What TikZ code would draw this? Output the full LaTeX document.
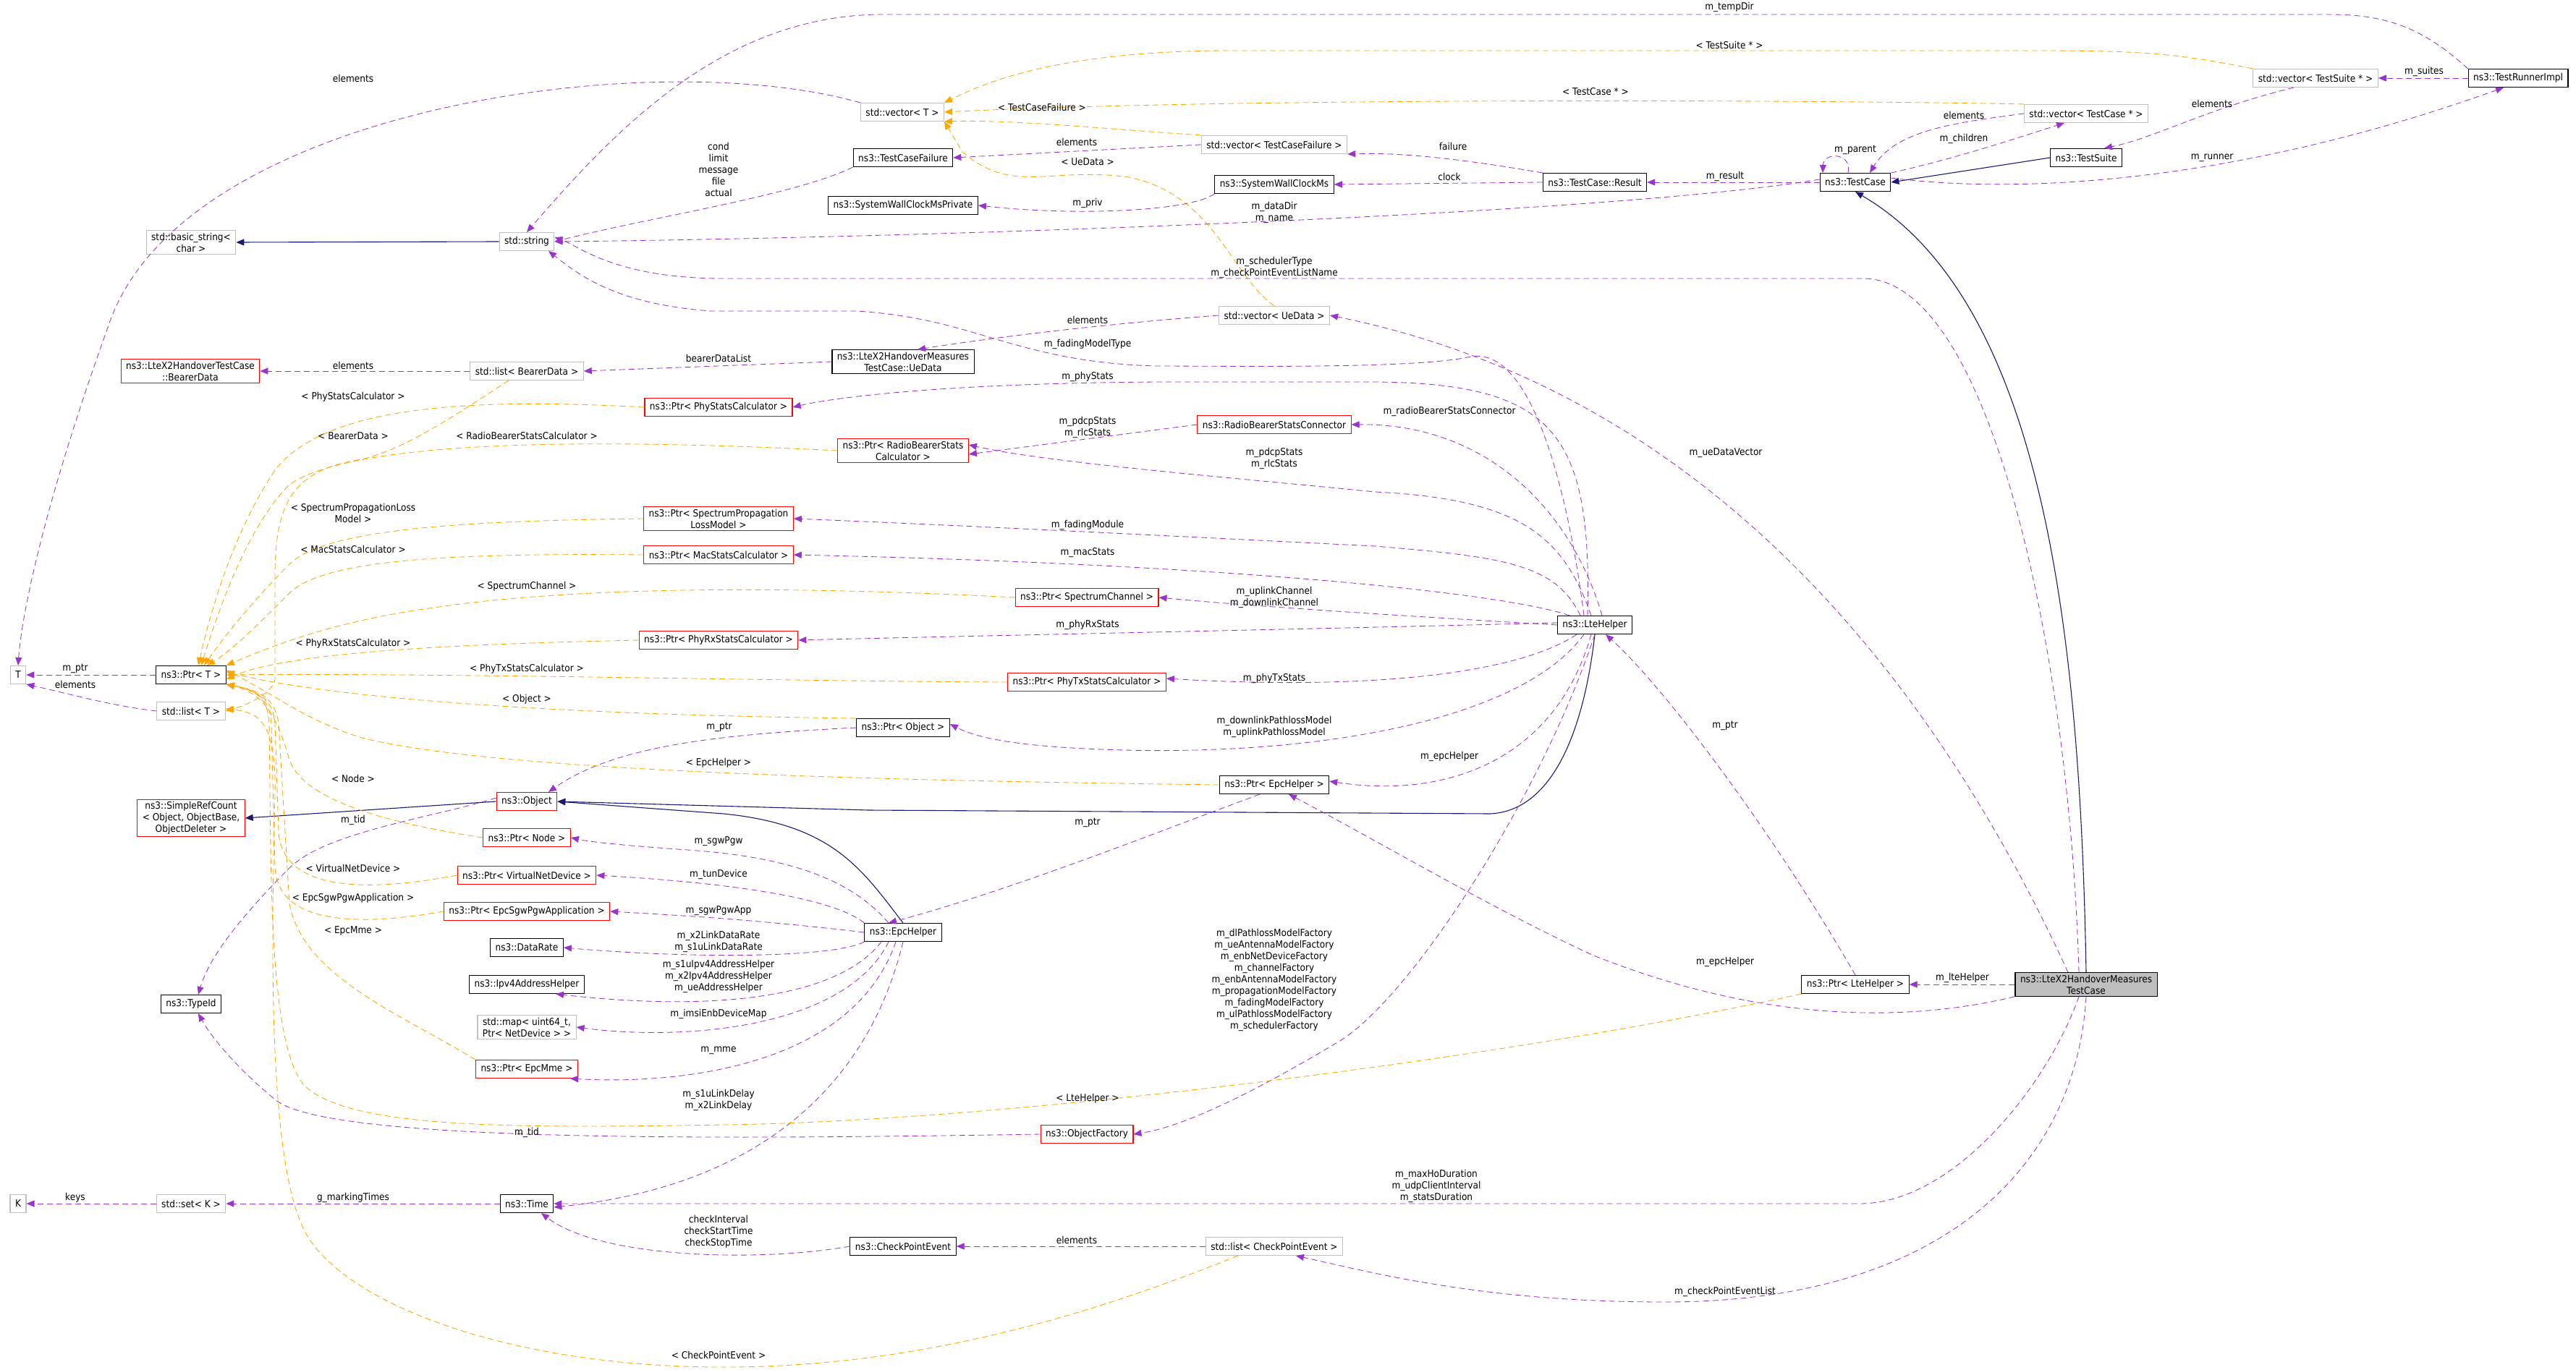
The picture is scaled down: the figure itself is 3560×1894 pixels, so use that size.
\documentclass[tikz,border=0pt]{standalone}
\usepackage{fontspec}
\setmainfont{DejaVu Sans}[FakeStretch=0.9]
\usetikzlibrary{arrows.meta}
\definecolor{purp}{HTML}{9A32CD}
\definecolor{orng}{HTML}{FFA500}
\definecolor{navyc}{HTML}{191970}
\definecolor{gbord}{HTML}{BFBFBF}
\begin{document}
\begin{tikzpicture}[x=1pt,y=-1pt,
  base/.style={font=\fontsize{13.5}{16}\selectfont, align=center, inner xsep=7pt, inner ysep=3pt, minimum height=25pt, fill=white},
  bx/.style={base, draw=black, line width=1.1pt},
  gb/.style={base, draw=gbord, line width=1.1pt},
  rb/.style={base, draw=red, line width=1.1pt},
  mb/.style={base, draw=black, line width=1.1pt, fill=gray!50},
  tip/.style={-{Triangle[length=11pt,width=9pt]}},
  mem/.style={tip, draw=purp, line width=0.85pt, dash pattern=on 8pt off 5pt},
  tpl/.style={tip, draw=orng, line width=0.85pt, dash pattern=on 8pt off 5pt},
  inh/.style={tip, draw=navyc, line width=1.1pt},
  lb/.style={font=\fontsize{13.5}{16}\selectfont, align=center, inner sep=1pt}]
\useasboundingbox (0,0) rectangle (3560,1894);

% ---------- nodes ----------
\node[gb] (vecT) at (1247,155) {std::vector< T >};
\node[bx] (tcf) at (1248,218) {ns3::TestCaseFailure};
\node[bx] (swcp) at (1248,284) {ns3::SystemWallClockMsPrivate};
\node[gb] (str) at (728,334) {std::string};
\node[gb] (bstr) at (264,335) {std::basic\_string<\\char >};
\node[rb] (bdata) at (263,513) {ns3::LteX2HandoverTestCase\\::BearerData};
\node[gb] (lbd) at (728,513) {std::list< BearerData >};
\node[bx] (ued) at (1248,500) {ns3::LteX2HandoverMeasures\\TestCase::UeData};
\node[rb] (pphy) at (993,563) {ns3::Ptr< PhyStatsCalculator >};
\node[rb] (prb) at (1248,623) {ns3::Ptr< RadioBearerStats\\Calculator >};
\node[rb] (pspl) at (993,717) {ns3::Ptr< SpectrumPropagation\\LossModel >};
\node[rb] (pmac) at (993,767) {ns3::Ptr< MacStatsCalculator >};
\node[rb] (prx) at (993,885) {ns3::Ptr< PhyRxStatsCalculator >};
\node[gb] (T) at (25,933) {T};
\node[bx] (pT) at (264,933) {ns3::Ptr< T >};
\node[gb] (vtcf) at (1761,200) {std::vector< TestCaseFailure >};
\node[bx] (res) at (2204,252) {ns3::TestCase::Result};
\node[bx] (swc) at (1761,255) {ns3::SystemWallClockMs};
\node[gb] (vued) at (1761,436) {std::vector< UeData >};
\node[rb] (rbsc) at (1761,587) {ns3::RadioBearerStatsConnector};
\node[rb] (psc) at (1502,826) {ns3::Ptr< SpectrumChannel >};
\node[bx] (lte) at (2204,864) {ns3::LteHelper};
\node[rb] (ptx) at (1502,943) {ns3::Ptr< PhyTxStatsCalculator >};
\node[gb] (vts) at (3200,108) {std::vector< TestSuite * >};
\node[bx] (tri) at (3480,108) {ns3::TestRunnerImpl};
\node[gb] (vtc) at (2883,157) {std::vector< TestCase * >};
\node[bx] (ts) at (2883,218) {ns3::TestSuite};
\node[bx] (tc) at (2564,252) {ns3::TestCase};
\node[gb] (lT) at (264,983) {std::list< T >};
\node[bx] (pobj) at (1248,1006) {ns3::Ptr< Object >};
\node[rb] (src) at (264,1131) {ns3::SimpleRefCount\\< Object, ObjectBase,\\ObjectDeleter >};
\node[rb] (obj) at (728,1108) {ns3::Object};
\node[rb] (pnode) at (728,1158) {ns3::Ptr< Node >};
\node[rb] (pvnd) at (728,1210) {ns3::Ptr< VirtualNetDevice >};
\node[rb] (psgw) at (728,1260) {ns3::Ptr< EpcSgwPgwApplication >};
\node[bx] (epc) at (1248,1289) {ns3::EpcHelper};
\node[bx] (dr) at (728,1310) {ns3::DataRate};
\node[bx] (ipv4) at (728,1361) {ns3::Ipv4AddressHelper};
\node[gb] (map) at (728,1420) {std::map< uint64\_t,\\Ptr< NetDevice > >};
\node[rb] (pmme) at (728,1478) {ns3::Ptr< EpcMme >};
\node[bx] (tid) at (264,1388) {ns3::TypeId};
\node[gb] (K) at (25,1664) {K};
\node[gb] (setK) at (264,1664) {std::set< K >};
\node[bx] (time) at (728,1664) {ns3::Time};
\node[bx] (cpe) at (1248,1723) {ns3::CheckPointEvent};
\node[bx] (pepc) at (1761,1085) {ns3::Ptr< EpcHelper >};
\node[rb] (of) at (1502,1568) {ns3::ObjectFactory};
\node[gb] (lcpe) at (1761,1723) {std::list< CheckPointEvent >};
\node[bx] (plte) at (2564,1361) {ns3::Ptr< LteHelper >};
\node[mb] (main) at (2883,1361) {ns3::LteX2HandoverMeasures\\TestCase};

% ---------- inheritance ----------
\draw[inh] (str.west) -- (bstr.east);
\draw[inh] (ts.west) -- (tc.east);
\draw[inh] (main.north) .. controls (2875,900) and (2830,420) .. (tc.south);
\draw[inh] (obj.west) -- (src.east);
\draw[inh] (lte.south) .. controls (2190,1000) and (2150,1120) .. (2060,1125) -- (1200,1120) -- (obj.east);
\draw[inh] (epc.north) .. controls (1190,1200) and (1150,1140) .. (1000,1125) -- (obj.east);

% ---------- top area ----------
\draw[mem] (tri.north west) .. controls (3350,40) and (3300,20) .. (3220,20) -- (1220,20) .. controls (1000,20) and (850,180) .. (str.north);
\node[lb] (l1) at (2390,10) {m\_tempDir};
\draw[mem] (vecT.north west) .. controls (900,60) and (250,150) .. (150,450) .. controls (60,700) and (30,850) .. (T.north);
\node[lb] (l2) at (488,108) {elements};
\draw[tpl] (vts.north west) .. controls (3000,72) and (2950,70) .. (2800,70) -- (1700,70) .. controls (1450,70) and (1350,120) .. (vecT.north east);
\node[lb] (l3) at (2390,62) {< TestSuite * >};
\draw[tpl] (vtc.north west) .. controls (2500,138) and (1700,135) .. (vecT.east);
\node[lb] (l4) at (2205,127) {< TestCase * >};
\draw[tpl] (vtcf.north west) .. controls (1550,180) and (1400,165) .. (vecT.south east);
\node[lb] (l5) at (1440,148) {< TestCaseFailure >};
\draw[tpl] (vued.north) .. controls (1700,380) and (1680,270) .. (1560,245) .. controls (1450,230) and (1400,270) .. (1330,210) -- (vecT.south east);
\node[lb] (l6) at (1503,224) {< UeData >};
\draw[mem] (tcf.south west) .. controls (1100,270) and (900,300) .. (str.east);
\node[lb] (l7) at (993,234) {cond\\limit\\message\\file\\actual};
\draw[mem] (swc.south west) .. controls (1650,290) and (1500,300) .. (swcp.east);
\node[lb] (l8) at (1503,281) {m\_priv};
\draw[mem] (res.west) -- (swc.east);
\node[lb] (l9) at (2003,244) {clock};
\draw[mem] (res.north west) .. controls (2050,225) and (1950,210) .. (vtcf.south east);
\node[lb] (l10) at (2008,202) {failure};
\draw[mem] (vtcf.west) -- (tcf.east);
\node[lb] (l11) at (1488,196) {elements};
\draw[mem] (tc.west) -- (res.east);
\node[lb] (l12) at (2384,244) {m\_result};
\draw[mem] ([yshift=4pt]tc.west) .. controls (2200,300) and (1200,330) .. (str.east);
\node[lb] (l13) at (1761,294) {m\_dataDir\\m\_name};
\draw[mem] ([xshift=-10pt]tc.north) .. controls (2560,210) and (2520,210) .. ([xshift=-45pt]tc.north);
\node[lb] (l14) at (2564,207) {m\_parent};
\draw[mem] (tc.north east) .. controls (2700,220) and (2790,190) .. ([xshift=-30pt]vtc.south);
\node[lb] (l15) at (2714,192) {m\_children};
\draw[mem] (vtc.west) .. controls (2700,170) and (2620,180) .. ([xshift=20pt]tc.north);
\node[lb] (l16) at (2714,159) {elements};
\draw[mem] ([xshift=-30pt]vts.south) .. controls (3050,150) and (2980,190) .. ([xshift=25pt]ts.north);
\node[lb] (l17) at (3057,143) {elements};
\draw[mem] (tri.west) -- (vts.east);
\node[lb] (l18) at (3350,99) {m\_suites};
\draw[mem] ([yshift=6pt]tc.east) .. controls (2800,270) and (3100,250) .. ([xshift=-20pt]tri.south);
\node[lb] (l19) at (3057,218) {m\_runner};
\draw[mem] ([xshift=-10pt]main.north) .. controls (2860,900) and (2750,385) .. (2575,385) -- (1000,385) .. controls (850,385) and (800,340) .. ([yshift=6pt]str.east);
\node[lb] (l20) at (1761,370) {m\_schedulerType\\m\_checkPointEventListName};
\draw[mem] ([xshift=-25pt]main.north) .. controls (2700,1000) and (2400,550) .. (vued.east);
\node[lb] (l21) at (2385,626) {m\_ueDataVector};

% ---------- middle left ----------
\draw[mem] (lbd.west) -- (bdata.east);
\node[lb] (l22) at (488,505) {elements};
\draw[mem] (ued.west) -- (lbd.east);
\node[lb] (l23) at (993,495) {bearerDataList};
\draw[mem] (vued.west) .. controls (1500,450) and (1350,470) .. ([xshift=20pt]ued.north);
\node[lb] (l24) at (1503,442) {elements};

% LteHelper outgoing
\draw[mem] ([xshift=-15pt]lte.north) .. controls (2170,700) and (2120,470) .. (2028,494) .. controls (1950,510) and (1700,506) .. (1597,506) .. controls (1400,500) and (1350,440) .. (1183,430) -- (982,430) .. controls (850,420) and (800,380) .. ([xshift=30pt]str.south);
\node[lb] (l25) at (1503,476) {m\_fadingModelType};
\draw[mem] ([xshift=-10pt]lte.north) .. controls (2200,600) and (2150,530) .. (1900,528) -- (1600,528) .. controls (1300,530) and (1150,550) .. (pphy.east);
\node[lb] (l26) at (1503,521) {m\_phyStats};
\draw[mem] ([xshift=10pt]lte.north) .. controls (2170,700) and (2050,585) .. (rbsc.east);
\node[lb] (l27) at (2003,569) {m\_radioBearerStatsConnector};
\draw[mem] (rbsc.west) -- ([yshift=-5pt]prb.east);
\node[lb] (l28) at (1503,591) {m\_pdcpStats\\m\_rlcStats};
\draw[mem] ([xshift=-5pt]lte.north) .. controls (2160,740) and (2100,690) .. (1900,680) .. controls (1700,660) and (1450,640) .. ([yshift=8pt]prb.east);
\node[lb] (l29) at (1761,634) {m\_pdcpStats\\m\_rlcStats};
\draw[mem] ([xshift=-20pt]lte.north) .. controls (2150,780) and (2080,770) .. (1900,755) .. controls (1600,740) and (1300,725) .. (pspl.east);
\node[lb] (l30) at (1503,726) {m\_fadingModule};
\draw[mem] ([xshift=-35pt]lte.north) .. controls (2080,820) and (1700,780) .. (pmac.east);
\node[lb] (l31) at (1503,764) {m\_macStats};
\draw[mem] (lte.west) .. controls (2000,855) and (1750,840) .. (psc.east);
\node[lb] (l32) at (1761,826) {m\_uplinkChannel\\m\_downlinkChannel};
\draw[mem] ([yshift=3pt]lte.west) .. controls (1800,870) and (1300,880) .. (prx.east);
\node[lb] (l33) at (1503,864) {m\_phyRxStats};
\draw[mem] ([xshift=-25pt]lte.south) .. controls (2100,930) and (1900,955) .. ([yshift=5pt]ptx.east);
\node[lb] (l34) at (1761,938) {m\_phyTxStats};
\draw[mem] ([xshift=-15pt]lte.south) .. controls (2100,1000) and (1800,1050) .. (1500,1035) .. controls (1400,1030) and (1350,1020) .. ([yshift=5pt]pobj.east);
\node[lb] (l35) at (1761,1005) {m\_downlinkPathlossModel\\m\_uplinkPathlossModel};
\draw[mem] ([xshift=-5pt]lte.south) .. controls (2150,1050) and (2000,1105) .. ([yshift=5pt]pepc.east);
\node[lb] (l36) at (2003,1046) {m\_epcHelper};
\draw[mem] ([xshift=0pt]lte.south) .. controls (2130,1100) and (1950,1380) .. (1850,1440) .. controls (1700,1530) and (1620,1560) .. (of.east);
\node[lb] (l37) at (1761,1355) {m\_dlPathlossModelFactory\\m\_ueAntennaModelFactory\\m\_enbNetDeviceFactory\\m\_channelFactory\\m\_enbAntennaModelFactory\\m\_propagationModelFactory\\m\_fadingModelFactory\\m\_ulPathlossModelFactory\\m\_schedulerFactory};

% Ptr<LteHelper>
\draw[mem] (plte.north) .. controls (2450,1150) and (2300,950) .. ([xshift=15pt]lte.south);
\node[lb] (l38) at (2384,1003) {m\_ptr};
\draw[mem] (main.west) -- (plte.east);
\node[lb] (l39) at (2712,1352) {m\_lteHelper};
\draw[mem] (main.south west) .. controls (2650,1410) and (2450,1420) .. (2200,1320) .. controls (2050,1250) and (1900,1160) .. ([xshift=20pt]pepc.south);
\node[lb] (l40) at (2384,1330) {m\_epcHelper};
\draw[mem] ([xshift=-10pt]main.south) .. controls (2830,1500) and (2700,1664) .. (2570,1664) -- (time.east);
\node[lb] (l41) at (1985,1640) {m\_maxHoDuration\\m\_udpClientInterval\\m\_statsDuration};
\draw[mem] (main.south) .. controls (2870,1600) and (2700,1800) .. (2300,1800) .. controls (2050,1800) and (1900,1760) .. ([xshift=30pt]lcpe.south);
\node[lb] (l42) at (2384,1786) {m\_checkPointEventList};

% EpcHelper
\draw[mem] ([xshift=-20pt]pepc.south) .. controls (1600,1150) and (1400,1230) .. ([xshift=-20pt]epc.north);
\node[lb] (l43) at (1503,1137) {m\_ptr};
\draw[mem] (pobj.west) .. controls (1000,1015) and (850,1030) .. ([xshift=30pt]obj.north);
\node[lb] (l44) at (994,1005) {m\_ptr};
\draw[mem] ([xshift=-20pt]epc.north) .. controls (1180,1220) and (1100,1185) .. (950,1175) .. controls (880,1170) and (820,1165) .. (pnode.east);
\node[lb] (l45) at (993,1163) {m\_sgwPgw};
\draw[mem] (epc.north west) .. controls (1150,1240) and (1000,1220) .. (pvnd.east);
\node[lb] (l46) at (993,1209) {m\_tunDevice};
\draw[mem] (epc.west) .. controls (1050,1272) and (950,1266) .. (psgw.east);
\node[lb] (l47) at (993,1259) {m\_sgwPgwApp};
\draw[mem] (epc.south west) .. controls (1150,1325) and (950,1325) .. (dr.east);
\node[lb] (l48) at (993,1302) {m\_x2LinkDataRate\\m\_s1uLinkDataRate};
\draw[mem] ([xshift=-30pt]epc.south) .. controls (1150,1390) and (950,1395) .. ([xshift=40pt]ipv4.south);
\node[lb] (l49) at (993,1350) {m\_s1uIpv4AddressHelper\\m\_x2Ipv4AddressHelper\\m\_ueAddressHelper};
\draw[mem] ([xshift=-20pt]epc.south) .. controls (1170,1420) and (950,1440) .. (map.east);
\node[lb] (l50) at (993,1402) {m\_imsiEnbDeviceMap};
\draw[mem] ([xshift=-10pt]epc.south) .. controls (1180,1470) and (950,1500) .. ([xshift=60pt]pmme.south);
\node[lb] (l51) at (993,1452) {m\_mme};
\draw[mem] (epc.south) .. controls (1200,1500) and (1050,1640) .. ([yshift=-5pt]time.east);
\node[lb] (l52) at (993,1521) {m\_s1uLinkDelay\\m\_x2LinkDelay};

\draw[mem] (of.west) .. controls (1000,1575) and (450,1580) .. (380,1520) .. controls (320,1470) and (290,1430) .. ([xshift=10pt]tid.south);
\node[lb] (l53) at (728,1566) {m\_tid};
\draw[mem] ([yshift=5pt]obj.west) .. controls (600,1130) and (450,1150) .. (400,1200) .. controls (340,1260) and (290,1320) .. ([xshift=10pt]tid.north);
\node[lb] (l54) at (488,1134) {m\_tid};

\draw[mem] (pT.west) -- (T.east);
\node[lb] (l55) at (104,924) {m\_ptr};
\draw[mem] (lT.west) .. controls (150,975) and (100,960) .. (T.south east);
\node[lb] (l56) at (104,946) {elements};
\draw[mem] (setK.west) -- (K.east);
\node[lb] (l57) at (104,1656) {keys};
\draw[mem] (time.west) -- (setK.east);
\node[lb] (l58) at (488,1656) {g\_markingTimes};
\draw[mem] (cpe.west) .. controls (1050,1745) and (830,1740) .. ([xshift=20pt]time.south);
\node[lb] (l59) at (993,1703) {checkInterval\\checkStartTime\\checkStopTime};
\draw[mem] (lcpe.west) -- (cpe.east);
\node[lb] (l60) at (1488,1714) {elements};

% ---------- template edges ----------
\draw[tpl] ([xshift=-25pt]lbd.south) .. controls (620,580) and (560,620) .. (500,635) .. controls (400,650) and (380,700) .. (380,800) -- (380,940) .. controls (375,960) and (340,975) .. (lT.east);
\node[lb] (l61) at (488,603) {< BearerData >};
\draw[tpl] (pphy.west) .. controls (650,550) and (450,560) .. (380,650) .. controls (320,740) and (290,850) .. ([xshift=10pt]pT.north);
\node[lb] (l62) at (488,549) {< PhyStatsCalculator >};
\draw[tpl] (prb.west) .. controls (900,610) and (500,600) .. (400,670) .. controls (340,730) and (300,850) .. ([xshift=14pt]pT.north);
\node[lb] (l63) at (728,602) {< RadioBearerStatsCalculator >};
\draw[tpl] (pspl.west) .. controls (650,720) and (450,730) .. (400,780) .. controls (350,830) and (310,880) .. ([xshift=18pt]pT.north);
\node[lb] (l64) at (488,709) {< SpectrumPropagationLoss\\Model >};
\draw[tpl] (pmac.west) .. controls (650,765) and (450,770) .. (400,820) .. controls (360,860) and (320,900) .. ([xshift=22pt]pT.north);
\node[lb] (l65) at (488,759) {< MacStatsCalculator >};
\draw[tpl] (psc.west) .. controls (1100,810) and (800,810) .. (600,840) .. controls (450,860) and (360,900) .. (pT.north east);
\node[lb] (l66) at (728,811) {< SpectrumChannel >};
\draw[tpl] (prx.west) .. controls (650,890) and (400,900) .. ([yshift=-6pt]pT.east);
\node[lb] (l67) at (488,890) {< PhyRxStatsCalculator >};
\draw[tpl] (ptx.west) .. controls (1100,942) and (600,930) .. (pT.east);
\node[lb] (l68) at (728,925) {< PhyTxStatsCalculator >};
\draw[tpl] (pobj.north west) .. controls (900,990) and (500,975) .. ([yshift=4pt]pT.east);
\node[lb] (l69) at (728,967) {< Object >};
\draw[tpl] (pepc.west) .. controls (1300,1080) and (700,1070) .. (500,1020) .. controls (420,995) and (380,960) .. ([yshift=6pt]pT.east);
\node[lb] (l70) at (993,1055) {< EpcHelper >};
\draw[tpl] (pnode.west) .. controls (550,1140) and (420,1110) .. (400,1050) .. controls (385,1000) and (370,960) .. (pT.south east);
\node[lb] (l71) at (488,1076) {< Node >};
\draw[tpl] (pvnd.west) .. controls (500,1235) and (390,1230) .. (385,1150) -- (380,1000) .. controls (378,970) and (360,955) .. (pT.south east);
\node[lb] (l72) at (488,1200) {< VirtualNetDevice >};
\draw[tpl] (psgw.west) .. controls (500,1280) and (385,1280) .. (380,1200) -- (375,1000) .. controls (373,970) and (360,955) .. (pT.south east);
\node[lb] (l73) at (488,1242) {< EpcSgwPgwApplication >};
\draw[tpl] (pmme.north west) .. controls (550,1400) and (420,1350) .. (400,1250) -- (385,1000) .. controls (380,965) and (360,955) .. (pT.south east);
\node[lb] (l74) at (488,1287) {< EpcMme >};
\draw[tpl] (plte.south west) .. controls (2100,1460) and (1400,1550) .. (1000,1555) .. controls (700,1560) and (480,1560) .. (420,1500) .. controls (370,1440) and (375,1200) .. (372,1000) .. controls (370,965) and (355,955) .. (pT.south east);
\node[lb] (l75) at (1503,1519) {< LteHelper >};
\draw[tpl] ([xshift=-50pt]lcpe.south) .. controls (1550,1800) and (1300,1890) .. (1000,1890) .. controls (700,1890) and (470,1800) .. (420,1700) .. controls (370,1600) and (375,1300) .. (380,1100) .. controls (382,1000) and (360,985) .. ([yshift=3pt]lT.east);
\node[lb] (l76) at (993,1873) {< CheckPointEvent >};
\end{tikzpicture}
\end{document}
